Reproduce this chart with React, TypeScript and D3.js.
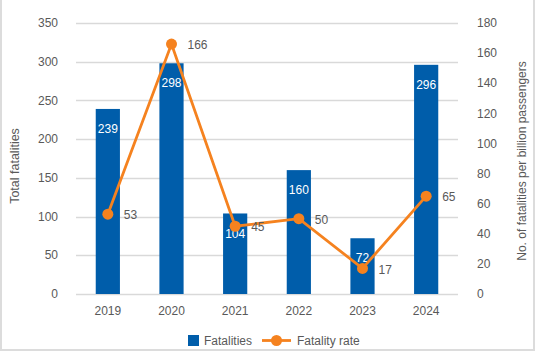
import { useEffect, useRef } from "react";
import * as d3 from "d3";

const years = ["2019", "2020", "2021", "2022", "2023", "2024"];
const fatalities = [239, 298, 104, 160, 72, 296];
const fatalityRate = [53, 166, 45, 50, 17, 65];
const leftTicks = [0, 50, 100, 150, 200, 250, 300, 350];
const rightTicks = [0, 20, 40, 60, 80, 100, 120, 140, 160, 180];

const W = 535;
const H = 353;
const BLUE = "#005daa";
const ORANGE = "#f5821f";
const GREY = "#595959";
const FONT = "'Liberation Sans', Arial, sans-serif";

const App = () => {
    const svgRef = useRef<SVGSVGElement>(null);

    useEffect(() => {
        const svg = d3.select(svgRef.current);
        svg.selectAll("*").remove();

        const margin = { top: 23, right: 77, bottom: 59, left: 76 };
        const plotW = W - margin.left - margin.right;
        const plotH = H - margin.top - margin.bottom;

        const x = d3
            .scaleBand()
            .domain(years)
            .range([margin.left, margin.left + plotW])
            .paddingInner(0.62)
            .paddingOuter(0.31);

        const yLeft = d3
            .scaleLinear()
            .domain([0, 350])
            .range([margin.top + plotH, margin.top]);

        const yRight = d3
            .scaleLinear()
            .domain([0, 180])
            .range([margin.top + plotH, margin.top]);

        // frame
        svg.append("rect")
            .attr("x", 1)
            .attr("y", -2)
            .attr("width", W - 2)
            .attr("height", H - 1)
            .attr("fill", "none")
            .attr("stroke", "#dcdcdc")
            .attr("stroke-width", 2);

        // gridlines
        svg.append("g")
            .selectAll("line")
            .data(leftTicks)
            .enter()
            .append("line")
            .attr("x1", margin.left)
            .attr("x2", margin.left + plotW)
            .attr("y1", (d) => Math.round(yLeft(d)) + 0.5)
            .attr("y2", (d) => Math.round(yLeft(d)) + 0.5)
            .attr("stroke", "#d9d9d9")
            .attr("stroke-width", 1.3);

        // left ticks
        svg.append("g")
            .selectAll("text")
            .data(leftTicks)
            .enter()
            .append("text")
            .attr("x", 58)
            .attr("y", (d) => yLeft(d))
            .attr("dy", "0.35em")
            .attr("text-anchor", "end")
            .attr("font-family", FONT)
            .attr("font-size", 12)
            .attr("fill", GREY)
            .text((d) => d);

        // right ticks
        svg.append("g")
            .selectAll("text")
            .data(rightTicks)
            .enter()
            .append("text")
            .attr("x", 477)
            .attr("y", (d) => yRight(d))
            .attr("dy", "0.35em")
            .attr("text-anchor", "start")
            .attr("font-family", FONT)
            .attr("font-size", 12)
            .attr("fill", GREY)
            .text((d) => d);

        // x labels
        svg.append("g")
            .selectAll("text")
            .data(years)
            .enter()
            .append("text")
            .attr("x", (d) => x(d)! + x.bandwidth() / 2)
            .attr("y", 311)
            .attr("dy", "0.35em")
            .attr("text-anchor", "middle")
            .attr("font-family", FONT)
            .attr("font-size", 12)
            .attr("fill", GREY)
            .text((d) => d);

        // axis titles
        svg.append("text")
            .attr("transform", "translate(15, 166) rotate(-90)")
            .attr("dy", "0.35em")
            .attr("text-anchor", "middle")
            .attr("font-family", FONT)
            .attr("font-size", 12.5)
            .attr("fill", GREY)
            .text("Total fatalities");

        svg.append("text")
            .attr("transform", "translate(522, 161) rotate(-90)")
            .attr("dy", "0.35em")
            .attr("text-anchor", "middle")
            .attr("font-family", FONT)
            .attr("font-size", 12)
            .attr("fill", GREY)
            .text("No. of fatalities per billion passengers");

        // bars
        svg.append("g")
            .selectAll("rect")
            .data(fatalities)
            .enter()
            .append("rect")
            .attr("x", (d, i) => x(years[i])!)
            .attr("y", (d) => yLeft(d))
            .attr("width", x.bandwidth())
            .attr("height", (d) => yLeft(0) - yLeft(d))
            .attr("fill", BLUE);

        // bar labels
        svg.append("g")
            .selectAll("text")
            .data(fatalities)
            .enter()
            .append("text")
            .attr("x", (d, i) => x(years[i])! + x.bandwidth() / 2)
            .attr("y", (d) => yLeft(d) + 20)
            .attr("dy", "0.35em")
            .attr("text-anchor", "middle")
            .attr("font-family", FONT)
            .attr("font-size", 12)
            .attr("fill", "#ffffff")
            .text((d) => d);

        // line
        const line = d3
            .line<number>()
            .x((d, i) => x(years[i])! + x.bandwidth() / 2)
            .y((d) => yRight(d));

        svg.append("path")
            .datum(fatalityRate)
            .attr("d", line)
            .attr("fill", "none")
            .attr("stroke", ORANGE)
            .attr("stroke-width", 2.8);

        svg.append("g")
            .selectAll("circle")
            .data(fatalityRate)
            .enter()
            .append("circle")
            .attr("cx", (d, i) => x(years[i])! + x.bandwidth() / 2)
            .attr("cy", (d) => yRight(d))
            .attr("r", 5.5)
            .attr("fill", ORANGE);

        svg.append("g")
            .selectAll("text")
            .data(fatalityRate)
            .enter()
            .append("text")
            .attr("x", (d, i) => x(years[i])! + x.bandwidth() / 2 + 16)
            .attr("y", (d) => yRight(d) + 1)
            .attr("dy", "0.35em")
            .attr("text-anchor", "start")
            .attr("font-family", FONT)
            .attr("font-size", 12)
            .attr("fill", GREY)
            .text((d) => d);

        // legend
        const legend = svg.append("g");
        legend.append("rect")
            .attr("x", 188)
            .attr("y", 335)
            .attr("width", 11)
            .attr("height", 11)
            .attr("fill", BLUE);
        legend.append("text")
            .attr("x", 204)
            .attr("y", 340.5)
            .attr("dy", "0.35em")
            .attr("font-family", FONT)
            .attr("font-size", 12)
            .attr("fill", GREY)
            .text("Fatalities");
        legend.append("line")
            .attr("x1", 262)
            .attr("x2", 291)
            .attr("y1", 340.5)
            .attr("y2", 340.5)
            .attr("stroke", ORANGE)
            .attr("stroke-width", 2.8);
        legend.append("circle")
            .attr("cx", 276.5)
            .attr("cy", 340.5)
            .attr("r", 5.5)
            .attr("fill", ORANGE);
        legend.append("text")
            .attr("x", 297)
            .attr("y", 340.5)
            .attr("dy", "0.35em")
            .attr("font-family", FONT)
            .attr("font-size", 12)
            .attr("fill", GREY)
            .text("Fatality rate");
    }, []);

    return (
        <svg
            ref={svgRef}
            width={W}
            height={H}
            viewBox={`0 0 ${W} ${H}`}
            style={{ position: "absolute", left: 0, top: 0, background: "#ffffff" }}
        ></svg>
    );
};

export default App;
